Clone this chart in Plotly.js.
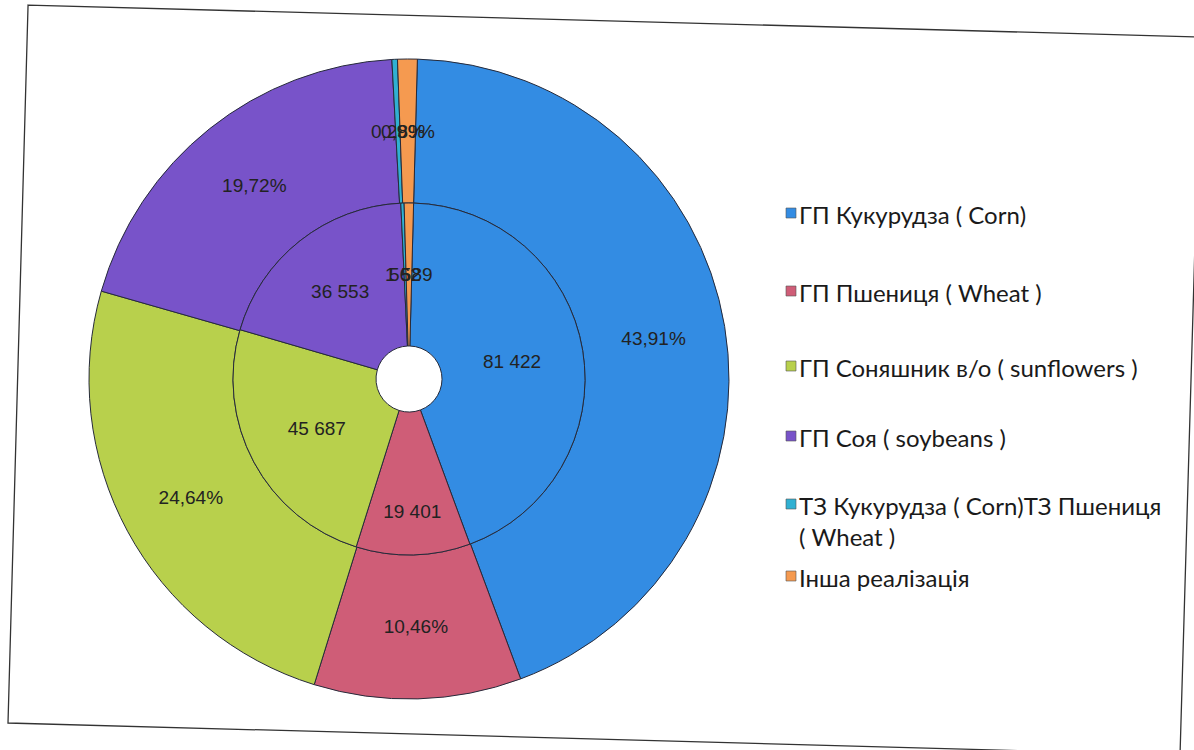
<!DOCTYPE html>
<html>
<head>
<meta charset="utf-8">
<script src="https://cdn.plot.ly/plotly-3.0.1.min.js"></script>
<style>html,body{margin:0;padding:0;background:#fff;}#chart{width:1194px;height:750px;}</style>
</head>
<body>
<div id="chart"></div>
<script>
// ---- data ----
const categories = [
  'ГП Кукурудза ( Corn)',
  'ГП Пшениця ( Wheat )',
  'ГП Соняшник в/о ( sunflowers )',
  'ГП Соя ( soybeans )',
  'ТЗ Кукурудза ( Corn)ТЗ Пшениця ( Wheat )',
  'Інша реалізація'
];
// legend text, wrapped as in the original
const legendLabels = [
  'ГП Кукурудза ( Corn)',
  'ГП Пшениця ( Wheat )',
  'ГП Соняшник в/о ( sunflowers )',
  'ГП Соя ( soybeans )',
  'ТЗ Кукурудза ( Corn)ТЗ Пшениця<br>( Wheat )',
  'Інша реалізація'
];
const innerValues = [81422, 19401, 45687, 36553, 562, 1589];
const outerShares = [43.91, 10.46, 24.64, 19.72, 0.28, 0.99];
const colors = ['#338ce3', '#cf5d77', '#b8d04c', '#7853c9', '#30b0d2', '#f59a50'];

// ---- helpers ----
const W = 1194, H = 750;
const LABEL_FONT = '"Liberation Sans", Arial, sans-serif';
const LEGEND_FONT = 'Lato, "Open Sans", sans-serif';
function fmtInt(v){ return String(v).replace(/\B(?=(\d{3})+(?!\d))/g, ' '); }
function fmtPct(v){ return v.toFixed(2).replace('.', ',') + '%'; }
const SMALL = 1.5; // percent threshold for labels drawn beside thin slices

const rotation = 1.5;
// geometry (pixels)
const cx = 409, cy = 379, rOuter = 320, rMid = 176, rHole = 33;
const outerDomain = {x: [(cx - rOuter) / W, (cx + rOuter) / W], y: [(H - cy - rOuter) / H, (H - cy + rOuter) / H]};
const innerDomain = {x: [(cx - rMid) / W, (cx + rMid) / W], y: [(H - cy - rMid) / H, (H - cy + rMid) / H]};

function sharesOf(vals){ const s = vals.reduce((a,b)=>a+b,0); return vals.map(v => 100 * v / s); }
const innerPct = sharesOf(innerValues);
const outerPct = sharesOf(outerShares);

const outerText = outerShares.map((v,i) => outerPct[i] < SMALL ? '' : fmtPct(v));
const innerText = innerValues.map((v,i) => innerPct[i] < SMALL ? '' : fmtInt(v));

const commonPie = {
  type: 'pie', sort: false, direction: 'clockwise', rotation: rotation,
  marker: {colors: colors, line: {color: '#262a3a', width: 1}},
  textinfo: 'text', textposition: 'inside', insidetextorientation: 'horizontal',
  textfont: {family: LABEL_FONT, size: 19, color: '#222'},
  hoverinfo: 'label+value', showlegend: false
};

const traces = [
  Object.assign({}, commonPie, {labels: categories, values: outerShares, text: outerText, hole: rMid / rOuter, domain: outerDomain, name: 'outer'}),
  Object.assign({}, commonPie, {labels: categories, values: innerValues, text: innerText, hole: rHole / rMid, domain: innerDomain, name: 'inner'})
];

// labels of thin slices, placed at ring middle along slice bisector (computed from data)
const annotations = [];
function thinLabels(pct, vals, fmt, rIn, rOut){
  let cum = 0;
  pct.forEach((p, i) => {
    const mid = cum + p / 2; cum += p;
    if (p >= SMALL) return;
    const th = (rotation + 360 * mid / 100) * Math.PI / 180;
    const r = (rIn + rOut) / 2;
    const px = cx + r * Math.sin(th), py = cy - r * Math.cos(th);
    annotations.push({xref: 'paper', yref: 'paper', x: px / W, y: 1 - py / H, text: fmt(vals[i]), showarrow: false,
      font: {family: LABEL_FONT, size: 19, color: '#222'}, xanchor: 'center', yanchor: 'middle'});
  });
}
thinLabels(outerPct, outerShares, fmtPct, rMid, rOuter);
thinLabels(innerPct, innerValues, fmtInt, rHole, rMid);

// custom legend
const shapes = [];
const legY = [213, 291, 366, 436, 504, 576];
const legX = 786;
legendLabels.forEach((t, i) => {
  const y = legY[i];
  shapes.push({type: 'rect', xref: 'paper', yref: 'paper', x0: legX / W, x1: (legX + 10) / W, y0: 1 - (y + 5) / H, y1: 1 - (y - 5) / H,
    fillcolor: colors[i], line: {color: '#555', width: 0.6}});
  annotations.push({xref: 'paper', yref: 'paper', x: (legX + 12) / W, y: 1 - (y - 14) / H, text: t, showarrow: false, align: 'left',
    xanchor: 'left', yanchor: 'top', borderpad: 0, font: {family: LEGEND_FONT, size: 24, color: '#1a1a1a'}});
});

// chart frame (slightly skewed like the scan)
const P = (x, y) => (x / W).toFixed(4) + ',' + (1 - y / H).toFixed(4);
shapes.push({type: 'path', xref: 'paper', yref: 'paper', path: 'M' + P(28,5) + 'L' + P(1201,37) + 'L' + P(1180,755) + 'L' + P(8,723) + 'Z',
  line: {color: '#333', width: 1.3}, fillcolor: 'rgba(0,0,0,0)'});

const layout = {
  width: W, height: H, margin: {l: 0, r: 0, t: 0, b: 0},
  paper_bgcolor: '#fff', showlegend: false,
  annotations: annotations, shapes: shapes
};

Plotly.newPlot('chart', traces, layout, {displayModeBar: false, staticPlot: true});
</script>
</body>
</html>
